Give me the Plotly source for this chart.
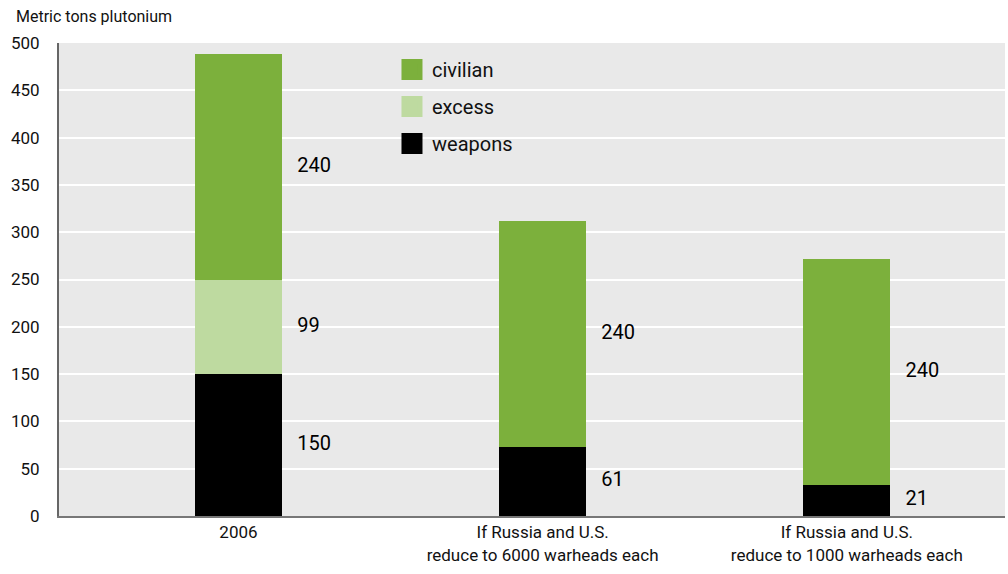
import plotly.graph_objects as go

categories = ["2006", "If Russia and U.S.<br>reduce to 6000 warheads each",
              "If Russia and U.S.<br>reduce to 1000 warheads each"]
positions = [0, 1, 2]
# bar heights as drawn in the reference
weapons = [150, 73, 33]
excess = [99, 0, 0]
civilian = [239, 239, 239]
# printed value labels
weapons_labels = ["150", "61", "21"]
excess_labels = ["99", "", ""]
civilian_labels = ["240", "240", "240"]
yticks = [0, 50, 100, 150, 200, 250, 300, 350, 400, 450, 500]
series_names = ["weapons", "excess", "civilian"]
legend_ranks = [3, 2, 1]

C_CIV = "#7cb03c"
C_EXC = "#bedaa0"
C_WEA = "#000000"
colors = [C_WEA, C_EXC, C_CIV]
FONT = "Roboto"

fig = go.Figure()
bw = 0.286
for vals, name, col, rk in zip((weapons, excess, civilian), series_names, colors, legend_ranks):
    fig.add_bar(x=positions, y=vals, name=name, marker=dict(color=col, line_width=0), width=bw,
                showlegend=False, legendgroup=name, legendrank=rk)

# legend entries with large square swatches
for name, col, rk in zip(series_names, colors, legend_ranks):
    fig.add_scatter(x=[None], y=[None], mode="markers", name=name, legendgroup=name, legendrank=rk,
                    marker=dict(symbol="square", size=16, color=col, line=dict(color=col, width=5)))

# value labels to the right of each segment
lx, ly, lt = [], [], []
for i in positions:
    base = 0
    for vals, labs in ((weapons, weapons_labels), (excess, excess_labels), (civilian, civilian_labels)):
        v = vals[i]
        if v > 0 and labs[i]:
            lx.append(i + bw / 2 + 0.05)
            ly.append(base + v / 2)
            lt.append(labs[i])
        base += v
fig.add_scatter(x=lx, y=ly, text=lt, mode="text", textposition="middle right",
                textfont=dict(family=FONT, size=20, color="#000"), showlegend=False, hoverinfo="skip")

fig.update_layout(
    width=1008, height=574,
    margin=dict(l=59, r=3, t=43, b=58),
    barmode="stack",
    paper_bgcolor="white",
    plot_bgcolor="#e9e9e9",
    font=dict(family=FONT, size=17, color="#111"),
    legend=dict(x=0.352, y=0.985, xanchor="left", yanchor="top", bgcolor="rgba(0,0,0,0)",
                font=dict(size=20), traceorder="grouped", tracegroupgap=8,
                itemsizing="trace"),
    xaxis=dict(range=[-0.59, 2.52], tickmode="array", tickvals=positions, ticktext=categories,
               showgrid=False, zeroline=False, showline=True, linecolor="#777", linewidth=2,
               tickfont=dict(size=17), ticks=""),
    yaxis=dict(range=[0, 500], tickmode="array", tickvals=yticks, showgrid=True, gridcolor="white",
               gridwidth=1.5, zeroline=False, showline=True, linecolor="#666", linewidth=2,
               ticks="", ticklabelstandoff=14, tickfont=dict(size=17)),
    annotations=[dict(text="Metric tons plutonium", xref="paper", yref="paper", x=-0.048, y=1.055,
                      xanchor="left", yanchor="middle", showarrow=False, font=dict(size=16))],
)

fig.write_html("out.html")
